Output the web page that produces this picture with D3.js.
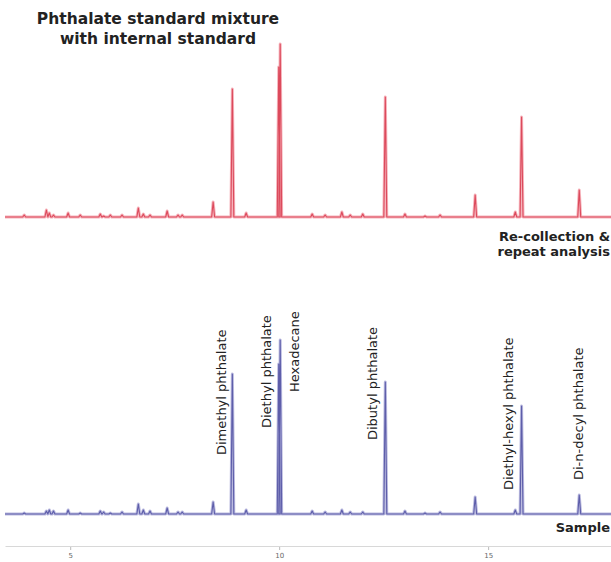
<!DOCTYPE html>
<html>
<head>
<meta charset="utf-8">
<script src="https://cdn.jsdelivr.net/npm/d3@7/dist/d3.min.js"></script>
<style>
  html, body { margin: 0; padding: 0; background: #fff; }
  svg { display: block; }
  text { font-family: "DejaVu Sans", Verdana, sans-serif; }
</style>
</head>
<body>
<svg id="chart" width="611" height="562"></svg>
<script>
// Retention times (min) of the peaks seen in both chromatograms
const peakTimes = [3.9, 4.43, 4.5, 4.6, 4.95, 5.24, 5.72, 5.8, 5.96, 6.24, 6.63, 6.75, 6.91, 7.32, 7.58, 7.68,
  8.42, 8.88, 9.21, 9.99, 10.025, 10.79, 11.1, 11.5, 11.7, 12.0, 12.54, 13.01, 13.49, 13.85, 14.69, 15.65, 15.8, 17.18];
// Peak heights, top trace (re-collection & repeat analysis)
const recollectionHeights = [2, 7, 4, 2, 4, 2, 3, 1, 2, 2, 9, 3, 2, 6, 2, 2,
  15, 128, 4, 150, 173, 3, 2, 5, 2, 3, 120, 3, 1, 2, 22, 5, 100, 27];
// Peak heights, bottom trace (sample)
const sampleHeights = [1, 3, 4, 3, 4, 1, 3, 2, 1, 2, 10, 4, 3, 6, 2, 2,
  12, 140, 4, 150, 174, 3, 2, 4, 2, 2, 132, 3, 1, 2, 17, 4, 108, 19];
// Compound labels and the peak they annotate
const compoundNames = ["Dimethyl phthalate", "Diethyl phthalate", "Hexadecane", "Dibutyl phthalate",
  "Diethyl-hexyl phthalate", "Di-n-decyl phthalate"];
const compoundTimes = [8.88, 9.99, 10.025, 12.54, 15.8, 17.18];
// Axis ticks
const tickValues = [5, 10, 15];
const titleLines = ["Phthalate standard mixture", "with internal standard"];
const recollectionLabel = ["Re-collection &", "repeat analysis"];
const sampleLabel = "Sample";

const svg = d3.select("#chart");

const x = d3.scaleLinear().domain([3.44, 17.94]).range([5, 611]);
const yTop = d3.scaleLinear().domain([0, 180]).range([217, 37]);
const yBot = d3.scaleLinear().domain([0, 180]).range([514, 334]);

const halfW = 0.035;
function tracePoints(heights) {
  const pts = [[x.domain()[0], 0]];
  peakTimes.forEach((t, i) => {
    pts.push([t - halfW, 0], [t, heights[i]], [t + halfW, 0]);
  });
  pts.push([x.domain()[1], 0]);
  return pts;
}

function drawTrace(heights, y, halo, core) {
  const line = d3.line().x(d => x(d[0])).y(d => y(d[1]));
  const pts = tracePoints(heights);
  svg.append("path").attr("d", line(pts)).attr("fill", "none")
    .attr("stroke", halo).attr("stroke-width", 3).attr("stroke-linejoin", "round");
  svg.append("path").attr("d", line(pts)).attr("fill", "none")
    .attr("stroke", core).attr("stroke-width", 1.1).attr("stroke-linejoin", "round");
}

drawTrace(recollectionHeights, yTop, "#f6b4bc", "#dc4a5c");
drawTrace(sampleHeights, yBot, "#bcbce0", "#5e5eaa");

// Title
svg.append("text").attr("x", 158).attr("y", 24).attr("text-anchor", "middle")
  .attr("font-weight", "bold").attr("font-size", 15.5).attr("fill", "#222")
  .selectAll("tspan").data(titleLines).join("tspan")
  .attr("x", 158).attr("dy", (d, i) => i === 0 ? 0 : 19.5).text(d => d);

// Panel labels
svg.append("text").attr("x", 610).attr("y", 241).attr("text-anchor", "end")
  .attr("font-weight", "bold").attr("font-size", 13).attr("fill", "#222")
  .selectAll("tspan").data(recollectionLabel).join("tspan")
  .attr("x", 610).attr("dy", (d, i) => i === 0 ? 0 : 15).text(d => d);
svg.append("text").attr("x", 610).attr("y", 532).attr("text-anchor", "end")
  .attr("font-weight", "bold").attr("font-size", 13).attr("fill", "#222").text(sampleLabel);

// Compound labels (layout offsets in px relative to their peak)
const labelDx = [-11, -12, 14, -13, -13, -1];
const labelBottom = [455, 428, 392, 440, 490, 480];
compoundNames.forEach((name, i) => {
  const lx = x(compoundTimes[i]) + labelDx[i];
  svg.append("text")
    .attr("transform", `translate(${lx},${labelBottom[i]}) rotate(-90)`)
    .attr("dy", "0.36em").attr("font-size", 13).attr("fill", "#222").text(name);
});

// X axis
const axis = d3.axisBottom(x).tickValues(tickValues).tickSize(3).tickSizeOuter(0);
const gAx = svg.append("g").attr("transform", "translate(0,546)").call(axis);
gAx.select(".domain").attr("stroke", "#d8d8d8");
gAx.selectAll(".tick line").attr("stroke", "#bbb").attr("transform", "translate(0,1)");
gAx.selectAll(".tick text").attr("font-size", 7).attr("fill", "#666")
  .attr("font-family", "DejaVu Sans, sans-serif").attr("dy", "0.9em");
</script>
</body>
</html>
